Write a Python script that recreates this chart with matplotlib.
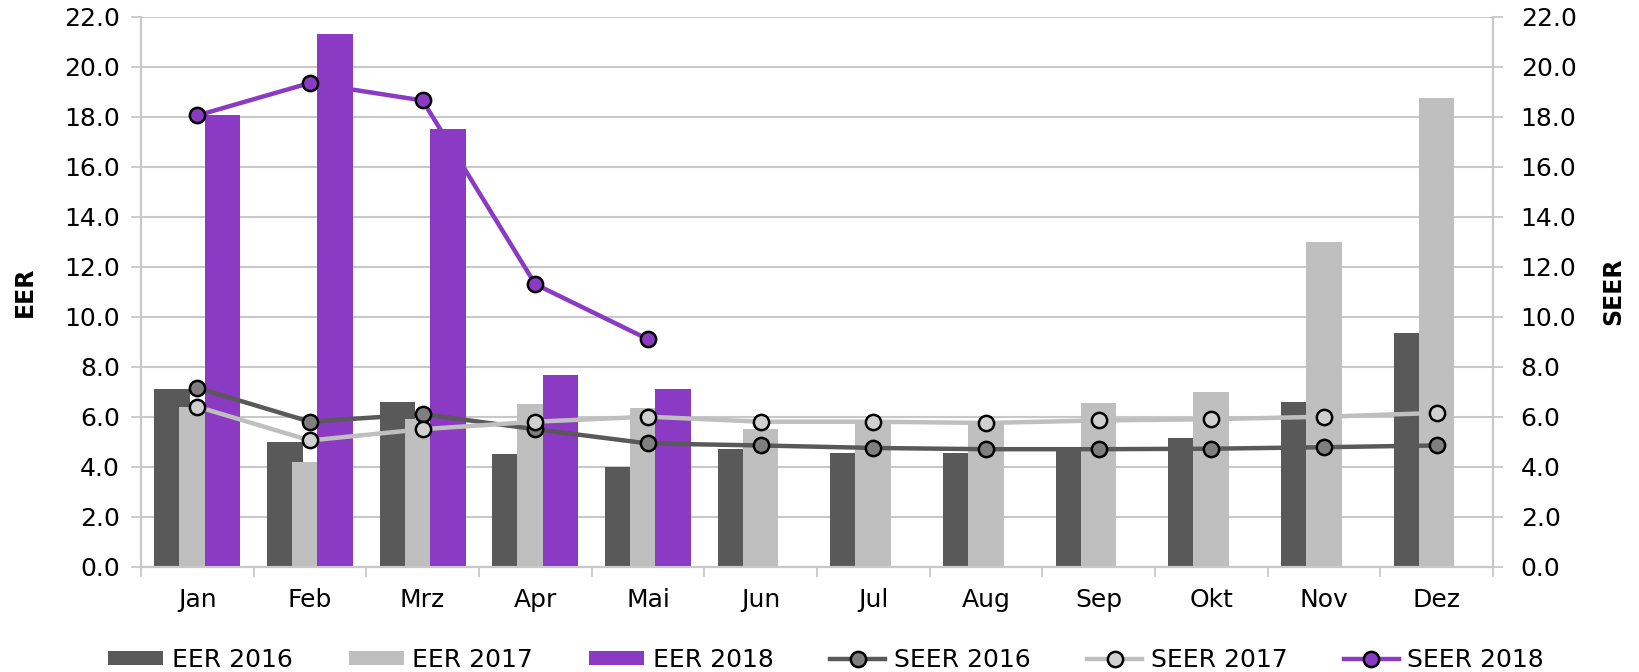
import numpy as np
import matplotlib
matplotlib.use('Agg')
from matplotlib import pyplot as plt
from matplotlib.ticker import FormatStrFormatter, MultipleLocator

plt.rcParams['font.family'] = ['DejaVu Sans']

months = ['Jan', 'Feb', 'Mrz', 'Apr', 'Mai', 'Jun', 'Jul', 'Aug', 'Sep', 'Okt', 'Nov', 'Dez']

eer_2016 = [7.1, 5.0, 6.6, 4.5, 4.0, 4.7, 4.55, 4.55, 4.75, 5.15, 6.6, 9.35]
eer_2017 = [6.4, 4.2, 5.9, 6.5, 6.35, 5.5, 5.75, 5.7, 6.55, 7.0, 13.0, 18.75]
eer_2018 = [18.05, 21.3, 17.5, 7.65, 7.1]

seer_2016 = [7.15, 5.8, 6.1, 5.5, 4.93, 4.85, 4.75, 4.7, 4.7, 4.72, 4.78, 4.85]
seer_2017 = [6.4, 5.05, 5.5, 5.8, 6.0, 5.8, 5.8, 5.75, 5.85, 5.9, 6.0, 6.15]
seer_2018 = [18.05, 19.35, 18.65, 11.3, 9.1]

c_dark = '#595959'
c_light = '#bfbfbf'
c_purple = '#8a3ac3'
c_grid = '#c8c8c8'

fig = plt.figure(figsize=(16.39, 6.72), dpi=100)
ax = fig.add_axes([0.0860, 0.1567, 0.8249, 0.8184])
ax2 = ax.twinx()

x = np.arange(len(months))
w = 0.317
off = 0.224

b1 = ax.bar(x - off, eer_2016, w, color=c_dark, label='EER 2016', zorder=2)
b2 = ax.bar(x, eer_2017, w, color=c_light, label='EER 2017', zorder=3)
b3 = ax.bar(x[:len(eer_2018)] + off, eer_2018, w, color=c_purple, label='EER 2018', zorder=4)

mk = dict(marker='o', ms=11, mec='black', mew=1.8)
l1, = ax2.plot(x, seer_2016, color=c_dark, lw=3.2, mfc='#7f7f7f', label='SEER 2016', **mk)
l2, = ax2.plot(x, seer_2017, color=c_light, lw=3.2, mfc='#d0d0d0', label='SEER 2017', **mk)
l3, = ax2.plot(x[:len(seer_2018)], seer_2018, color=c_purple, lw=3.2, mfc=c_purple,
               label='SEER 2018', **mk)

for a in (ax, ax2):
    a.set_ylim(0, 22)
    a.set_xlim(-0.5, len(months) - 0.5)
    a.yaxis.set_major_locator(MultipleLocator(2))
    a.yaxis.set_major_formatter(FormatStrFormatter('%.1f'))
    a.tick_params(axis='y', length=7, width=1.3, color=c_grid, labelsize=18, pad=8)
    for s in a.spines.values():
        s.set_color(c_grid)
        s.set_linewidth(1.5)
    a.spines['top'].set_visible(False)

ax.yaxis.grid(True, color=c_grid, lw=1.5, zorder=0)
ax.set_axisbelow(True)

ax.set_xticks(x)
ax.set_xticklabels(months)
ax.set_xticks(np.arange(-0.5, len(months), 1), minor=True)
ax.tick_params(axis='x', which='major', length=0, labelsize=18, pad=15)
ax.tick_params(axis='x', which='minor', length=7, width=1.3, color=c_grid)
ax2.tick_params(axis='y', pad=13)

ax.set_ylabel('EER', fontsize=17, fontweight='bold', labelpad=20)
ax2.set_ylabel('SEER', fontsize=17, fontweight='bold', labelpad=18)

fig.legend([b1, b2, b3, l1, l2, l3],
           ['EER 2016', 'EER 2017', 'EER 2018', 'SEER 2016', 'SEER 2017', 'SEER 2018'],
           loc='center', bbox_to_anchor=(0.504, 0.018), ncol=6, frameon=False,
           fontsize=18, handlelength=2.2, handletextpad=0.35, columnspacing=2.25,
           handleheight=0.5)

fig.savefig('out.png', dpi=100)
